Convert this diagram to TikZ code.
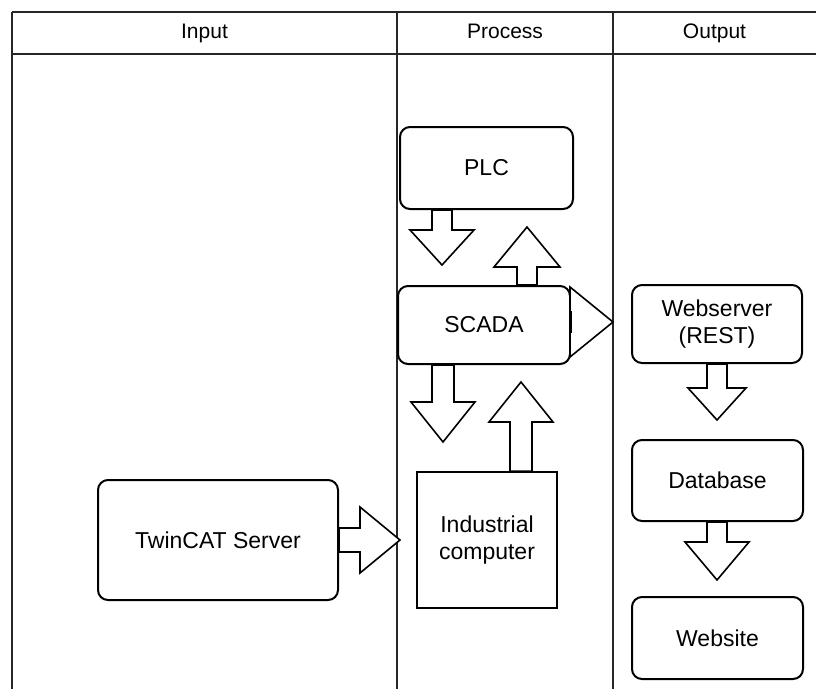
\documentclass[tikz,border=0pt]{standalone}
\usepackage{fontspec}
\setmainfont{Liberation Sans}
\usetikzlibrary{calc}
\tikzset{
  lane/.style={line width=1.6pt, black!85},
  box/.style={draw, line width=2pt, rounded corners=10pt, align=center, fill=white,
    font=\fontsize{23}{27}\selectfont, inner sep=0pt},
  sqbox/.style={draw, line width=1.6pt, align=center, fill=white,
    font=\fontsize{23}{27}\selectfont, inner sep=0pt},
  head/.style={font=\fontsize{21}{25}\selectfont, text height=15pt, text depth=4pt},
  barrow/.style={draw, line width=1.6pt, fill=white, line join=miter}
}
% vertical block arrow: start, tip, shaft half, head half, head length
\newcommand\varrow[5]{%
  \draw[barrow] let \p1=(#1), \p2=(#2), \n1={sign(\y2-\y1)} in
    (\x2-#3,\y1) -- (\x2-#3,\y2-\n1*#5) -- (\x2-#4,\y2-\n1*#5) -- (\x2,\y2)
    -- (\x2+#4,\y2-\n1*#5) -- (\x2+#3,\y2-\n1*#5) -- (\x2+#3,\y1) -- cycle;}
% horizontal block arrow
\newcommand\harrow[5]{%
  \draw[barrow] let \p1=(#1), \p2=(#2), \n1={sign(\x2-\x1)} in
    (\x1,\y2-#3) -- (\x2-\n1*#5,\y2-#3) -- (\x2-\n1*#5,\y2-#4) -- (\x2,\y2)
    -- (\x2-\n1*#5,\y2+#4) -- (\x2-\n1*#5,\y2+#3) -- (\x1,\y2+#3) -- cycle;}
\begin{document}
\begin{tikzpicture}[x=1pt,y=-1pt]
\useasboundingbox (0,0) rectangle (816,689);
% lanes
\draw[lane] (12,12) -- (816,12);
\draw[lane] (12,54) -- (816,54);
\draw[lane] (12,12) -- (12,689);
\draw[lane] (397,12) -- (397,689);
\draw[lane] (613,12) -- (613,689);
\node[head] (hin) at (204.5,33) {Input};
\node[head] (hpr) at (505,33) {Process};
\node[head] (hout) at (714.5,33) {Output};
% nodes
\node[box, minimum width=173pt, minimum height=82pt] (plc) at (486.5,168) {PLC};
\node[box, minimum width=172pt, minimum height=78pt] (scada) at (484,325) {SCADA};
\node[sqbox, minimum width=140pt, minimum height=136pt] (ind) at (487,540) {Industrial\\computer};
\node[box, minimum width=240pt, minimum height=120pt] (twin) at (218,540) {TwinCAT Server};
\node[box, minimum width=170pt, minimum height=78pt] (web) at (717,324) {Webserver\\(REST)};
\node[box, minimum width=171pt, minimum height=81pt] (db) at (717.5,480.5) {Database};
\node[box, minimum width=171pt, minimum height=82pt] (site) at (717.5,638) {Website};
% arrow tips
\coordinate (t1) at (442,265);
\coordinate (t2) at (527,227);
\coordinate (t3) at (443,442);
\coordinate (t4) at (521,382);
\coordinate (t5) at (613,322);
\coordinate (t6) at (717,420);
\coordinate (t7) at (717,580);
\coordinate (t8) at (400,540);
% block arrows
\varrow{plc.south -| t1}{t1}{10pt}{32pt}{35pt}
\varrow{scada.north -| t2}{t2}{10pt}{33pt}{40pt}
\varrow{scada.south -| t3}{t3}{11pt}{32pt}{40pt}
\varrow{ind.north -| t4}{t4}{11pt}{32pt}{40pt}
\harrow{scada.east |- t5}{t5}{10pt}{35pt}{43pt}
\varrow{web.south -| t6}{t6}{10pt}{29pt}{32pt}
\varrow{db.south -| t7}{t7}{10pt}{32pt}{38pt}
\harrow{twin.east |- t8}{t8}{12pt}{33pt}{40pt}
\end{tikzpicture}
\end{document}
